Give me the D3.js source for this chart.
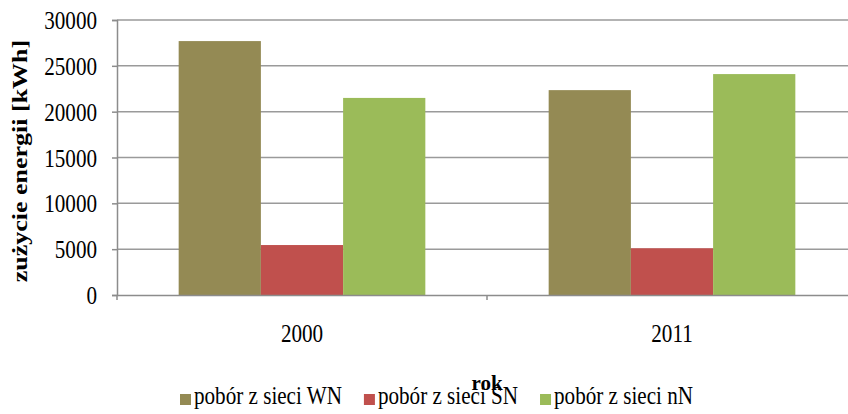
<!DOCTYPE html>
<html>
<head>
<meta charset="utf-8">
<script src="https://cdn.jsdelivr.net/npm/d3@7"></script>
<style>
  body { margin: 0; background: #fff; }
</style>
</head>
<body>
<div id="chart"></div>
<script>
var svgWidth = 848;
var svgHeight = 414;
var fontFam = "Liberation Serif";
var sx = 0.845; // the original text looks squeezed sideways

// data
var years = ["2000", "2011"];
var seriesNames = ["pobór z sieci WN", "pobór z sieci SN", "pobór z sieci nN"];
var seriesColors = ["#948A54", "#C0504D", "#9BBB59"];
var valuesWN = [27700, 22350];
var valuesSN = [5450, 5100];
var valuesNN = [21500, 24100];
var yTicks = [0, 5000, 10000, 15000, 20000, 25000, 30000];

var allValues = [valuesWN, valuesSN, valuesNN];

var margin = { top: 20, right: -9, bottom: 119, left: 117 };
var chWidth = svgWidth - margin.left - margin.right;
var chHeight = svgHeight - margin.top - margin.bottom;

var svg = d3.select("#chart")
  .append("svg")
  .attr("width", svgWidth)
  .attr("height", svgHeight);

var chGroup = svg.append("g")
  .attr("transform", `translate(${margin.left}, ${margin.top})`);

var x0 = d3.scaleBand()
  .domain(years)
  .range([0, chWidth])
  .padding(0);

var x1 = d3.scaleBand()
  .domain(d3.range(seriesNames.length))
  .range([0, x0.bandwidth()])
  .paddingInner(0)
  .paddingOuter(0.75);

var yScale = d3.scaleLinear()
  .domain([0, 30000])
  .range([chHeight, 0]);

// gridlines
chGroup.selectAll(".grid")
  .data(yTicks.slice(1))
  .enter()
  .append("line")
  .attr("x1", 0)
  .attr("x2", chWidth)
  .attr("y1", d => yScale(d))
  .attr("y2", d => yScale(d))
  .attr("stroke", "#9a9a9a")
  .attr("stroke-width", 1.5);

// bars
var groups = chGroup.selectAll(".year")
  .data(years)
  .enter()
  .append("g")
  .attr("transform", d => `translate(${x0(d)}, 0)`);

groups.selectAll("rect")
  .data((d, i) => allValues.map((vals, s) => ({ s: s, v: vals[i] })))
  .enter()
  .append("rect")
  .attr("x", d => x1(d.s))
  .attr("width", x1.bandwidth())
  .attr("y", d => yScale(d.v))
  .attr("height", d => chHeight - yScale(d.v))
  .style("fill", d => seriesColors[d.s]);

// y axis
var yAxis = d3.axisLeft(yScale).tickValues(yTicks).tickSize(5).tickFormat(d3.format("d"));
var yG = chGroup.append("g").call(yAxis).attr("font-family", fontFam);
yG.select(".domain").attr("stroke", "#8c8c8c").attr("stroke-width", 1.5);
yG.selectAll(".tick line").attr("stroke", "#8c8c8c").attr("stroke-width", 1.5);
yG.selectAll(".tick text")
  .attr("x", 0)
  .attr("dy", "0.34em")
  .attr("font-size", 25)
  .attr("fill", "#000")
  .attr("transform", `translate(-20, 0) scale(${sx}, 1)`);

// x axis
var xAxis = d3.axisBottom(x0).tickSize(0);
var xG = chGroup.append("g")
  .attr("transform", `translate(0, ${chHeight})`)
  .call(xAxis)
  .attr("font-family", fontFam);
xG.select(".domain").attr("stroke", "#8c8c8c").attr("stroke-width", 1.5);
xG.selectAll(".tick text")
  .attr("y", 0)
  .attr("dy", 0)
  .attr("font-size", 25)
  .attr("fill", "#000")
  .attr("transform", `translate(0, 47) scale(${sx}, 1)`);

// x tick marks at band boundaries
xG.selectAll(".bound")
  .data([0, x0.bandwidth(), chWidth])
  .enter()
  .append("line")
  .attr("x1", d => d)
  .attr("x2", d => d)
  .attr("y1", 0)
  .attr("y2", 5)
  .attr("stroke", "#8c8c8c")
  .attr("stroke-width", 1.5);

// axis titles
svg.append("text")
  .attr("transform", `translate(27, 161) rotate(-90) scale(1, ${sx})`)
  .attr("text-anchor", "middle")
  .attr("font-family", fontFam)
  .attr("font-size", 26)
  .attr("font-weight", "bold")
  .text("zużycie energii [kWh]");

svg.append("text")
  .attr("transform", "translate(487, 390)")
  .attr("text-anchor", "middle")
  .attr("font-family", fontFam)
  .attr("font-size", 21)
  .attr("font-weight", "bold")
  .text("rok");

// legend
var legend = svg.append("g").attr("transform", "translate(180, 394)");
var lx = 0;
seriesNames.forEach(function(name, i) {
  var item = legend.append("g").attr("transform", `translate(${lx}, 0)`);
  item.append("rect")
    .attr("width", 11)
    .attr("height", 11)
    .style("fill", seriesColors[i]);
  var t = item.append("text")
    .attr("transform", `translate(14, 10) scale(${sx}, 1)`)
    .attr("font-family", fontFam)
    .attr("font-size", 25)
    .attr("fill", "#000")
    .text(name);
  lx += 14 + t.node().getComputedTextLength() * sx + 22;
});
</script>
</body>
</html>
